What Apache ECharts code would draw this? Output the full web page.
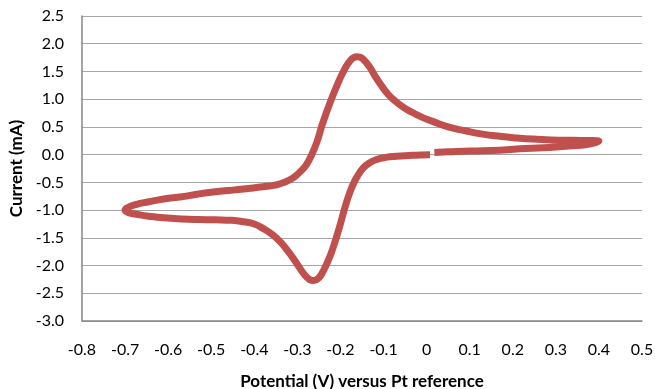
<!DOCTYPE html>
<html>
<head>
<meta charset="UTF-8">
<title>Cyclic voltammogram</title>
<script src="https://cdn.jsdelivr.net/npm/echarts@6/dist/echarts.min.js"></script>
<style>
    body { margin: 0; padding: 0; background: #fff; }
    #main { width: 655px; height: 389px; }
</style>
</head>
<body>
<div id="main"></div>
<script type="text/javascript">
    // scan: forward along bottom to 0.4 V, back along the top to -0.7 V, forward again to 0 V
    var potential = [
        0.018, 0.05, 0.1, 0.17, 0.23, 0.285, 0.33, 0.37, 0.39, 0.40,
        0.38, 0.34, 0.29, 0.245, 0.21, 0.17, 0.13, 0.09, 0.05, 0.014,
        -0.015, -0.04, -0.057, -0.072, -0.085, -0.097, -0.109, -0.12, -0.133, -0.146,
        -0.154, -0.162, -0.17, -0.178, -0.186, -0.195, -0.208, -0.221, -0.233, -0.244,
        -0.255, -0.268, -0.28, -0.295, -0.31, -0.33, -0.352, -0.38, -0.414, -0.45,
        -0.491, -0.53, -0.568, -0.61, -0.645, -0.675, -0.695, -0.70,
        -0.69, -0.67, -0.645, -0.61, -0.568, -0.53, -0.491, -0.452, -0.425, -0.40,
        -0.38, -0.36, -0.34, -0.32, -0.30, -0.285, -0.272, -0.262, -0.25, -0.24,
        -0.229, -0.218, -0.202, -0.186, -0.172, -0.16, -0.147, -0.133, -0.115, -0.095,
        -0.07, -0.04, -0.015, 0.008
    ];
    var current = [
        0.04, 0.05, 0.065, 0.08, 0.11, 0.13, 0.155, 0.18, 0.21, 0.245,
        0.255, 0.258, 0.265, 0.28, 0.30, 0.33, 0.37, 0.43, 0.50, 0.60,
        0.69, 0.79, 0.87, 0.96, 1.05, 1.16, 1.29, 1.42, 1.59, 1.71,
        1.755, 1.765, 1.745, 1.69, 1.60, 1.47, 1.25, 1.00, 0.75, 0.50,
        0.22, -0.02, -0.19, -0.32, -0.42, -0.50, -0.55, -0.58, -0.61, -0.64,
        -0.67, -0.71, -0.76, -0.80, -0.85, -0.90, -0.96, -1.0,
        -1.05, -1.08, -1.11, -1.14, -1.16, -1.17, -1.175, -1.185, -1.21, -1.25,
        -1.33, -1.43, -1.57, -1.76, -1.98, -2.15, -2.25, -2.27, -2.22, -2.10,
        -1.92, -1.70, -1.30, -0.86, -0.56, -0.38, -0.24, -0.15, -0.085, -0.05,
        -0.03, -0.015, -0.005, 0.0
    ];

    var points = potential.map(function (v, i) { return [v, current[i]]; });

    var chart = echarts.init(document.getElementById('main'));
    var textFont = 'Lato, "Open Sans", sans-serif';

    var option = {
        animation: false,
        grid: { left: 82, right: 13, top: 16, bottom: 68, containLabel: false, outerBoundsMode: 'none' },
        xAxis: {
            type: 'value',
            min: -0.8,
            max: 0.5,
            interval: 0.1,
            name: 'Potential (V) versus Pt reference',
            nameLocation: 'middle',
            nameGap: 52,
            nameTextStyle: { fontFamily: textFont, fontWeight: 'bold', fontSize: 17, color: '#000' },
            axisLine: { show: true, onZero: false, lineStyle: { color: '#868686', width: 1.5 } },
            axisTick: { show: false },
            splitLine: { show: false },
            axisLabel: {
                margin: 21,
                fontFamily: textFont,
                fontSize: 16,
                color: '#000',
                formatter: function (v) {
                    var r = Math.round(v * 10) / 10;
                    return r === 0 ? '0' : r.toFixed(1);
                }
            }
        },
        yAxis: {
            type: 'value',
            min: -3,
            max: 2.5,
            interval: 0.5,
            name: 'Current (mA)',
            nameLocation: 'middle',
            nameGap: 55,
            nameTextStyle: { fontFamily: textFont, fontWeight: 'bold', fontSize: 17, color: '#000' },
            axisLine: { show: true, onZero: false, lineStyle: { color: '#868686', width: 1.5 } },
            axisTick: { show: false },
            splitLine: { show: true, lineStyle: { color: '#a6a6a6', width: 1.2 } },
            axisLabel: {
                margin: 18,
                fontFamily: textFont,
                fontSize: 16,
                color: '#000',
                formatter: function (v) { return v.toFixed(1); }
            }
        },
        series: [{
            type: 'line',
            data: points,
            showSymbol: false,
            smooth: 0.5,
            lineStyle: { color: '#C0504D', width: 7, join: 'round' }
        }]
    };

    chart.setOption(option);
</script>
</body>
</html>
